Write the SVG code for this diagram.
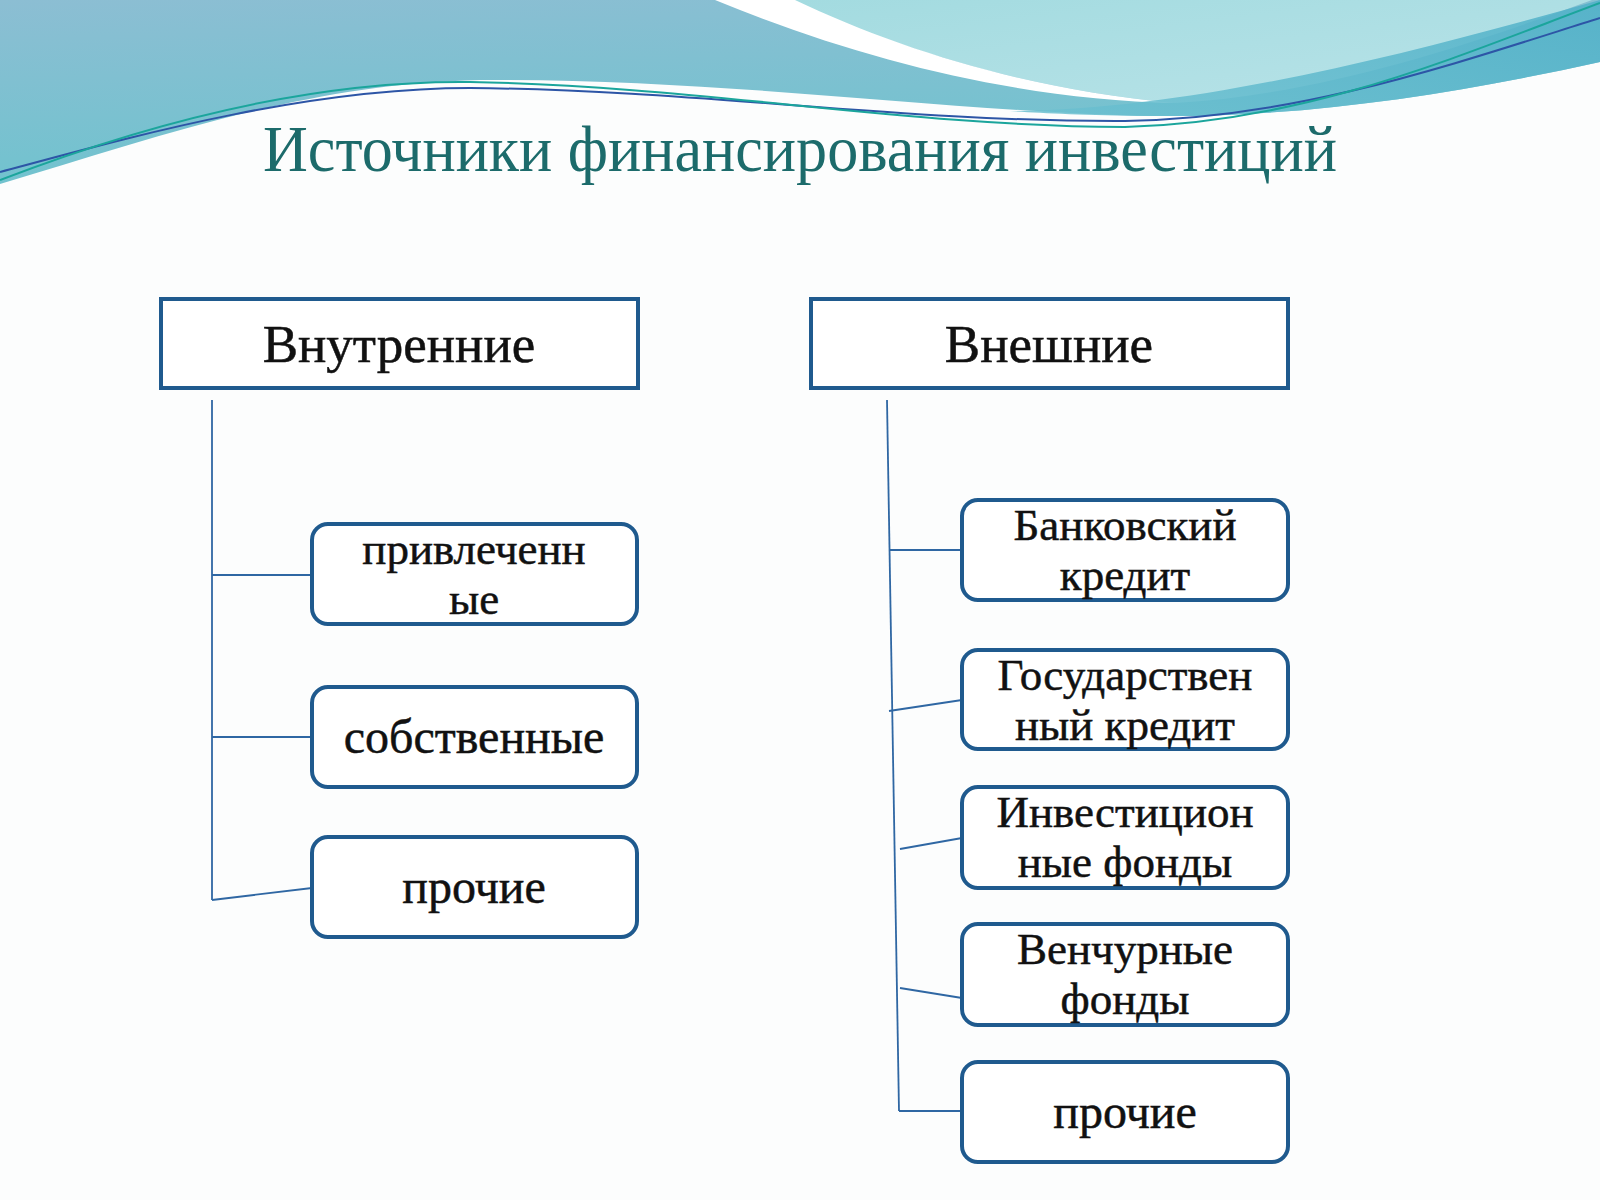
<svg xmlns="http://www.w3.org/2000/svg" width="1600" height="1200" viewBox="0 0 1600 1200">
  <defs>
    <linearGradient id="gBase" x1="0" y1="0" x2="0.3" y2="1">
      <stop offset="0" stop-color="#8cbed3"/>
      <stop offset="1" stop-color="#6fc3ce"/>
    </linearGradient>
    <linearGradient id="gLight" x1="0" y1="0" x2="1" y2="1">
      <stop offset="0" stop-color="#a3dbe0"/>
      <stop offset="1" stop-color="#b9e3e8"/>
    </linearGradient>
    <linearGradient id="gBand" x1="0" y1="1" x2="1" y2="0">
      <stop offset="0" stop-color="#6cc0d0"/>
      <stop offset="1" stop-color="#4fb0c8"/>
    </linearGradient>
  </defs>
  <style>
    .hdr { fill: #ffffff; stroke: #1f5a8e; stroke-width: 4; }
    .box { fill: #ffffff; stroke: #1f5a8e; stroke-width: 4; }
    .lbl { font-family: "Liberation Serif", "DejaVu Serif", serif; font-size: 48px; fill: #111111; stroke: #111111; stroke-width: 0.5; text-anchor: middle; }
    .lbl2 { font-family: "Liberation Serif", "DejaVu Serif", serif; font-size: 45px; fill: #111111; stroke: #111111; stroke-width: 0.5; text-anchor: middle; }
    .hlbl { font-family: "Liberation Serif", "DejaVu Serif", serif; font-size: 53px; fill: #111111; stroke: #111111; stroke-width: 0.5; text-anchor: middle; }
    .conn { fill: none; stroke: #2f67a3; stroke-width: 1.8; }
  </style>

  <rect x="0" y="0" width="1600" height="1200" fill="#fcfdfd"/>

  <g id="decoration">
    <path d="M0,0 H1600 V62 C1450,95 1300,118 1150,116 C950,112 720,78 480,80 C300,84 150,140 0,184 Z" fill="url(#gBase)"/>
    <path d="M790,0 H1592 C1470,45 1320,95 1175,103 C1030,90 900,50 790,0 Z" fill="url(#gLight)"/>
    <path d="M715,0 H795 C900,50 1030,90 1175,103 C1020,100 860,60 715,0 Z" fill="#ffffff"/>
    <path d="M1010,111 C1200,110 1420,50 1600,0 V62 C1450,95 1300,118 1150,116 C1080,115 1040,113 1010,111 Z" fill="url(#gBand)" opacity="0.85"/>
    <path d="M0,172 C120,140 300,88 470,88 C700,90 900,122 1125,121 C1300,118 1450,65 1600,18" fill="none" stroke="#2d55a6" stroke-width="2"/>
    <path d="M0,180 C130,130 300,80 470,82 C700,86 900,126 1125,127 C1310,122 1460,55 1600,3" fill="none" stroke="#1ba59c" stroke-width="2"/>
  </g>

  <text id="title" x="263" y="171" font-family="Liberation Serif, DejaVu Serif, serif" font-size="66" fill="#1c6b6b" textLength="1074" lengthAdjust="spacingAndGlyphs">Источники финансирования инвестиций</text>

  <g id="connectors">
    <path class="conn" d="M212,400 V900"/>
    <path class="conn" d="M212,575 H312"/>
    <path class="conn" d="M212,737 H312"/>
    <path class="conn" d="M212,900 L312,888"/>
    <path class="conn" d="M887,400 L899,1111"/>
    <path class="conn" d="M889,550 H962"/>
    <path class="conn" d="M889,711 L962,700"/>
    <path class="conn" d="M900,849 L962,838"/>
    <path class="conn" d="M900,988 L962,998"/>
    <path class="conn" d="M899,1111 H962"/>
  </g>

  <g id="internal">
    <rect class="hdr" x="161" y="299" width="477" height="89"/>
    <text class="hlbl" x="399" y="362">Внутренние</text>
  </g>
  <g id="external">
    <rect class="hdr" x="811" y="299" width="477" height="89"/>
    <text class="hlbl" x="1049" y="362">Внешние</text>
  </g>

  <g id="int-attracted">
    <rect class="box" x="312" y="524" width="325" height="100" rx="16"/>
    <text class="lbl2" x="474" y="564">привлеченн<tspan x="474" y="614">ые</tspan></text>
  </g>
  <g id="int-own">
    <rect class="box" x="312" y="687" width="325" height="100" rx="16"/>
    <text class="lbl" x="474" y="753">собственные</text>
  </g>
  <g id="int-other">
    <rect class="box" x="312" y="837" width="325" height="100" rx="16"/>
    <text class="lbl" x="474" y="903">прочие</text>
  </g>

  <g id="ext-bank">
    <rect class="box" x="962" y="500" width="326" height="100" rx="16"/>
    <text class="lbl2" x="1125" y="540">Банковский<tspan x="1125" y="590">кредит</tspan></text>
  </g>
  <g id="ext-state">
    <rect class="box" x="962" y="650" width="326" height="99" rx="16"/>
    <text class="lbl2" x="1125" y="690">Государствен<tspan x="1125" y="740">ный кредит</tspan></text>
  </g>
  <g id="ext-invest">
    <rect class="box" x="962" y="787" width="326" height="101" rx="16"/>
    <text class="lbl2" x="1125" y="827">Инвестицион<tspan x="1125" y="877">ные фонды</tspan></text>
  </g>
  <g id="ext-venture">
    <rect class="box" x="962" y="924" width="326" height="101" rx="16"/>
    <text class="lbl2" x="1125" y="964">Венчурные<tspan x="1125" y="1014">фонды</tspan></text>
  </g>
  <g id="ext-other">
    <rect class="box" x="962" y="1062" width="326" height="100" rx="16"/>
    <text class="lbl" x="1125" y="1128">прочие</text>
  </g>
</svg>
